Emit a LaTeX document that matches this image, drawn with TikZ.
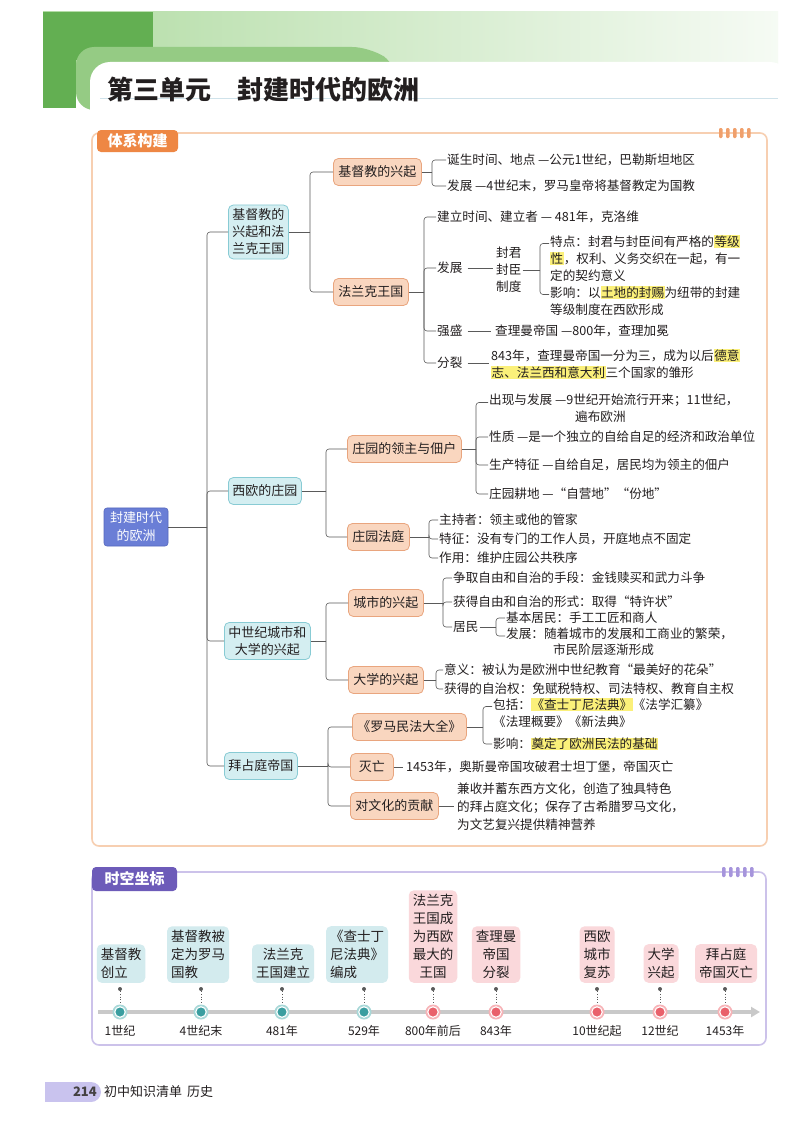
\documentclass[tikz,border=0pt]{standalone}
\usepackage{fontspec}
\setmainfont{Noto Sans CJK SC}
\usetikzlibrary{arrows.meta,calc}
\definecolor{txtC}{HTML}{231F20}
\definecolor{connC}{HTML}{5A5A5A}
\definecolor{hlY}{HTML}{FBF07A}
\definecolor{hdrDark}{HTML}{63AF52}
\definecolor{hdrMid}{HTML}{95CB84}
\definecolor{hdrLight}{HTML}{B2DCA4}
\definecolor{titleLine}{HTML}{CFE2EA}
\definecolor{sec1B}{HTML}{F7CFB1}
\definecolor{sec1L}{HTML}{EE8744}
\definecolor{sec1D}{HTML}{F0A06C}
\definecolor{sec2B}{HTML}{CCC2EA}
\definecolor{sec2L}{HTML}{6D5BB9}
\definecolor{sec2D}{HTML}{A695DC}
\definecolor{rootF}{HTML}{6A7ED6}
\definecolor{rootD}{HTML}{5568BE}
\definecolor{l1F}{HTML}{D4EEF1}
\definecolor{l1D}{HTML}{88CBD4}
\definecolor{l2F}{HTML}{F9D6BF}
\definecolor{l2D}{HTML}{E9A57E}
\definecolor{evT}{HTML}{D3EBEE}
\definecolor{evR}{HTML}{FAD8DB}
\definecolor{mkT}{HTML}{3A9EA0}
\definecolor{mkTR}{HTML}{A8D8D8}
\definecolor{mkR}{HTML}{E9616B}
\definecolor{mkRR}{HTML}{F7B3B7}
\definecolor{axisC}{HTML}{C9C9C9}
\definecolor{footC}{HTML}{C9C3EE}
\newcommand{\hl}[1]{{\setlength{\fboxsep}{0.5pt}\colorbox{hlY}{#1}}}
\tikzset{
  conn/.style={draw=connC, line width=0.6pt},
  br/.style={conn, rounded corners=3pt},
  rootbox/.style={fill=rootF, draw=rootD, line width=0.6pt, rounded corners=3pt, text=white,
    font=\fontsize{13}{18}\selectfont, align=center, inner xsep=6pt, inner ysep=4pt},
  lonebox/.style={anchor=west, fill=l1F, draw=l1D, line width=0.8pt, rounded corners=5pt,
    font=\fontsize{13}{17}\selectfont, align=center, inner xsep=4pt, inner ysep=4pt, text=txtC, minimum height=27pt},
  ltwobox/.style={anchor=west, fill=l2F, draw=l2D, line width=0.8pt, rounded corners=5pt,
    font=\fontsize{13}{17}\selectfont, align=center, inner xsep=5pt, inner ysep=3pt, text=txtC, minimum height=27pt},
  txt/.style={anchor=west, font=\fontsize{12.6}{17}\selectfont, align=left, inner sep=1pt, text=txtC},
  txtnw/.style={txt, anchor=north west},
  evbox/.style={anchor=south, rounded corners=5pt, font=\fontsize{13.5}{18}\selectfont,
    inner xsep=4pt, inner ysep=4pt, text=txtC},
  evt/.style={evbox, fill=evT},
  evr/.style={evbox, fill=evR},
  tdot/.style={circle, fill=connC, inner sep=0pt, minimum size=4pt},
  ringt/.style={circle, fill=mkTR, inner sep=0pt, minimum size=15pt},
  ringr/.style={circle, fill=mkRR, inner sep=0pt, minimum size=15pt},
  coret/.style={circle, fill=mkT, draw=white, line width=1.1pt, inner sep=0pt, minimum size=10.5pt},
  corer/.style={circle, fill=mkR, draw=white, line width=1.1pt, inner sep=0pt, minimum size=10.5pt},
  dlab/.style={font=\fontsize{12}{14}\selectfont, text=txtC, inner sep=1pt},
  seclab/.style={text=white, font=\bfseries\fontsize{15}{18}\selectfont, rounded corners=4pt, inner sep=0pt},
}
\begin{document}
\begin{tikzpicture}[x=1pt,y=-1pt]
\useasboundingbox (0,0) rectangle (800,1132);
\fill[white] (0,0) rectangle (800,1132);

% ---------- header ----------
\fill[left color=hdrLight, right color=white!88!hdrLight] (43,12) rectangle (778,64);
\fill[hdrDark] (43,12) rectangle (153,60);
\fill[hdrDark] (43,12) rectangle (76,108);
\fill[hdrMid, rounded corners=18pt] (76,110) -- (76,47) -- (370,47) -- (398,66) -- (398,110) -- cycle;
\fill[white, rounded corners=20pt] (90,150) -- (90,62) -- (790,62) -- (790,150) -- cycle;
\draw[titleLine, line width=0.8pt] (100,98) -- (778,98);
\node[anchor=west, font=\bfseries\fontsize{26}{30}\selectfont, text=txtC, inner sep=0pt] (title) at (107,90) {第三单元\hspace{26pt}封建时代的欧洲};

% ---------- section 1 frame ----------
\draw[sec1B, line width=1.6pt, rounded corners=7pt] (92,133) rectangle (767,846);
\foreach \i in {0,...,4} \fill[sec1D, rounded corners=1.2pt] (719+\i*7,128) rectangle (722.5+\i*7,138);
\node[seclab, fill=sec1L, minimum width=81pt, minimum height=22pt] (lab1) at (137.5,141) {体系构建};

% ---------- tree ----------
\node[rootbox] (root) at (136,527) {封建时代\\的欧洲};

\node[lonebox] (A) at (228,232) {基督教的\\兴起和法\\兰克王国};
\node[lonebox] (B) at (228,491) {西欧的庄园};
\node[lonebox] (C) at (224,641) {中世纪城市和\\大学的兴起};
\node[lonebox] (D) at (224,766) {拜占庭帝国};

\coordinate (t0) at (207,527);
\draw[conn] (root.east) -- (t0);
\foreach \n in {A,B,C,D} \draw[br] (t0) |- (\n.west);

\node[ltwobox] (Aa) at (333,172) {基督教的兴起};
\node[ltwobox] (Ab) at (333,292) {法兰克王国};
\node[ltwobox] (Ba) at (347,449) {庄园的领主与佃户};
\node[ltwobox] (Bb) at (347,537) {庄园法庭};
\node[ltwobox] (Ca) at (348,603) {城市的兴起};
\node[ltwobox] (Cb) at (348,680) {大学的兴起};
\node[ltwobox] (Da) at (352,727) {《罗马民法大全》};
\node[ltwobox, minimum width=43pt] (Db) at (350,767) {灭亡};
\node[ltwobox] (Dc) at (350,806) {对文化的贡献};

\coordinate (sA) at (310,232);
\draw[conn] (A.east) -- (sA);
\draw[br] (sA) |- (Aa.west); \draw[br] (sA) |- (Ab.west);
\coordinate (sB) at (326,491);
\draw[conn] (B.east) -- (sB);
\draw[br] (sB) |- (Ba.west); \draw[br] (sB) |- (Bb.west);
\coordinate (sC) at (326,641);
\draw[conn] (C.east) -- (sC);
\draw[br] (sC) |- (Ca.west); \draw[br] (sC) |- (Cb.west);
\coordinate (sD) at (328,766);
\draw[conn] (D.east) -- (sD);
\draw[br] (sD) |- (Da.west); \draw[br] (sD) |- (Db.west); \draw[br] (sD) |- (Dc.west);

% 基督教的兴起
\node[txt] (Aa1) at (446,160) {诞生时间、地点 —公元1世纪，巴勒斯坦地区};
\node[txt] (Aa2) at (446,186) {发展 —4世纪末，罗马皇帝将基督教定为国教};
\coordinate (sAa) at (432,172);
\draw[conn] (Aa.east) -- (sAa);
\draw[br] (sAa) |- (Aa1.west); \draw[br] (sAa) |- (Aa2.west);

% 法兰克王国
\node[txt] (Ab1) at (436,217) {建立时间、建立者 — 481年，克洛维};
\node[txt] (Ab2) at (436,268) {发展};
\node[txt] (Ab3) at (436,331) {强盛};
\node[txt] (Ab4) at (436,363) {分裂};
\coordinate (sAb) at (424,292);
\draw[conn] (Ab.east) -- (sAb);
\foreach \n in {Ab1,Ab2,Ab3,Ab4} \draw[br] (sAb) |- (\n.west);

\node[txt, align=center] (Fz) at (495,270) {封君\\封臣\\制度};
\draw[conn] ([xshift=4pt]Ab2.east) -- ([xshift=-2pt]Ab2.east -| Fz.west);
\node[txtnw] (Fz1) at (549,234) {特点：封君与封臣间有严格的\hl{等级}\\\hl{性}，权利、义务交织在一起，有一\\定的契约意义};
\node[txtnw] (Fz2) at (549,285) {影响：以\hl{土地的封赐}为纽带的封建\\等级制度在西欧形成};
\coordinate (sFz) at (540,270);
\draw[conn] (Fz.east) -- (sFz);
\draw[br] (sFz) |- ([yshift=-9.5pt]Fz1.north west);
\draw[br] (sFz) |- ([yshift=-9.5pt]Fz2.north west);

\node[txt] (Qs) at (494,331) {查理曼帝国 —800年，查理加冕};
\draw[conn] ([xshift=4pt]Ab3.east) -- ([xshift=-3pt]Qs.west);
\node[txtnw] (Fl) at (490,348) {843年，查理曼帝国一分为三，成为以后\hl{德意}\\\hl{志、法兰西和意大利}三个国家的雏形};
\draw[conn] ([xshift=4pt]Ab4.east) -- ([xshift=-1pt]Ab4.east -| Fl.west);

% 庄园的领主与佃户
\node[txtnw] (Ba1) at (488,393) {出现与发展 —9世纪开始流行开来；11世纪，\\\hspace*{86pt}遍布欧洲};
\node[txt] (Ba2) at (488,437) {性质 —是一个独立的自给自足的经济和政治单位};
\node[txt] (Ba3) at (488,465) {生产特征 —自给自足，居民均为领主的佃户};
\node[txt] (Ba4) at (488,494) {庄园耕地 —“自营地”“份地”};
\coordinate (sBa) at (476,449);
\draw[conn] (Ba.east) -- (sBa);
\draw[br] (sBa) |- ([yshift=-9.5pt]Ba1.north west);
\foreach \n in {Ba2,Ba3,Ba4} \draw[br] (sBa) |- (\n.west);

% 庄园法庭
\node[txt] (Bb1) at (438,520) {主持者：领主或他的管家};
\node[txt] (Bb2) at (438,539) {特征：没有专门的工作人员，开庭地点不固定};
\node[txt] (Bb3) at (438,558) {作用：维护庄园公共秩序};
\coordinate (sBb) at (429,537);
\draw[conn] (Bb.east) -- (sBb);
\foreach \n in {Bb1,Bb2,Bb3} \draw[br] (sBb) |- (\n.west);

% 城市的兴起
\node[txt] (Ca1) at (452,578) {争取自由和自治的手段：金钱赎买和武力斗争};
\node[txt] (Ca2) at (452,602) {获得自由和自治的形式：取得“特许状”};
\node[txt] (Ca3) at (452,627) {居民};
\coordinate (sCa) at (443,603);
\draw[conn] (Ca.east) -- (sCa);
\foreach \n in {Ca1,Ca2,Ca3} \draw[br] (sCa) |- (\n.west);
\node[txt] (Cr1) at (505,618) {基本居民：手工工匠和商人};
\node[txtnw, font=\fontsize{12.6}{16}\selectfont] (Cr2) at (505,627) {发展：随着城市的发展和工商业的繁荣，\\\hspace*{47pt}市民阶层逐渐形成};
\coordinate (sCr) at (496,627);
\draw[conn] (Ca3.east) -- (sCr);
\draw[br] (sCr) |- (Cr1.west);
\draw[br] (sCr) |- ([yshift=-9pt]Cr2.north west);

% 大学的兴起
\node[txt] (Cb1) at (443,670) {意义：被认为是欧洲中世纪教育“最美好的花朵”};
\node[txt] (Cb2) at (443,689) {获得的自治权：免赋税特权、司法特权、教育自主权};
\coordinate (sCb) at (436,680);
\draw[conn] (Cb.east) -- (sCb);
\draw[br] (sCb) |- (Cb1.west); \draw[br] (sCb) |- (Cb2.west);

% 罗马民法大全
\node[txtnw] (Da1) at (492,697) {包括：\hl{《查士丁尼法典》}《法学汇纂》\\《法理概要》《新法典》};
\node[txt] (Da2) at (492,744) {影响：\hl{奠定了欧洲民法的基础}};
\coordinate (sDa) at (483,727);
\draw[conn] (Da.east) -- (sDa);
\draw[br] (sDa) |- ([yshift=-9.5pt]Da1.north west);
\draw[br] (sDa) |- (Da2.west);

% 灭亡 / 文化
\node[txt] (Dbt) at (405,767) {1453年，奥斯曼帝国攻破君士坦丁堡，帝国灭亡};
\draw[conn] (Db.east) -- ([xshift=-2pt]Dbt.west);
\node[txt, font=\fontsize{12.6}{18}\selectfont] (Dct) at (456,807) {兼收并蓄东西方文化，创造了独具特色\\的拜占庭文化；保存了古希腊罗马文化，\\为文艺复兴提供精神营养};
\draw[conn] (Dc.east) -- ([xshift=-2pt]Dc.east -| Dct.west);

% ---------- section 2 ----------
\draw[sec2B, line width=1.6pt, rounded corners=7pt] (92,872) rectangle (766,1045);
\foreach \i in {0,...,4} \fill[sec2D, rounded corners=1.2pt] (722+\i*7,867) rectangle (725.5+\i*7,877);
\node[seclab, fill=sec2L, minimum width=85pt, minimum height=24pt] (lab2) at (134.5,879) {时空坐标};

\coordinate (ax0) at (98,1012);
\coordinate (ax1) at (760,1012);
\draw[axisC, line width=3.5pt, -{Triangle[length=9pt,width=10pt]}] (ax0) -- (ax1);

\node[evt, align=left]   (E1) at (121,983) {基督教\\创立};
\node[evt, align=left]   (E2) at (198,983) {基督教被\\定为罗马\\国教};
\node[evt, align=center] (E3) at (283,983) {法兰克\\王国建立};
\node[evt, align=left]   (E4) at (357,983) {《查士丁\\尼法典》\\编成};
\node[evr, align=center] (E5) at (433,983) {法兰克\\王国成\\为西欧\\最大的\\王国};
\node[evr, align=center] (E6) at (496,983) {查理曼\\帝国\\分裂};
\node[evr, align=center] (E7) at (597,983) {西欧\\城市\\复苏};
\node[evr, align=center] (E8) at (661,983) {大学\\兴起};
\node[evr, align=center] (E9) at (726,983) {拜占庭\\帝国灭亡};

\foreach \n/\x/\k/\lab in {1/120/t/1世纪, 2/201/t/4世纪末, 3/282/t/481年, 4/364/t/529年,
  5/433/r/800年前后, 6/496/r/843年, 7/597/r/10世纪起, 8/660/r/12世纪, 9/725/r/1453年}{
  \node[tdot] (P\n) at (\x,989) {};
  \node[ring\k] (M\n) at (\x,1012) {};
  \node[core\k] (K\n) at (M\n) {};
  \draw[connC, line width=0.7pt, dotted] (P\n) -- (M\n);
  \node[dlab] (L\n) at (\x,1031) {\lab};
}

% ---------- footer ----------
\fill[footC] (45,1082) rectangle (91,1102);
\fill[footC] (91,1092) circle (10);
\node[anchor=east, font=\bfseries\fontsize{13}{15}\selectfont, text=txtC!85, inner sep=0pt] (pg) at (97,1092) {214};
\node[anchor=west, font=\fontsize{13}{15}\selectfont, text=txtC, inner sep=0pt] (bk) at (104,1092) {初中知识清单\hspace{5pt}历史};
\end{tikzpicture}
\end{document}
